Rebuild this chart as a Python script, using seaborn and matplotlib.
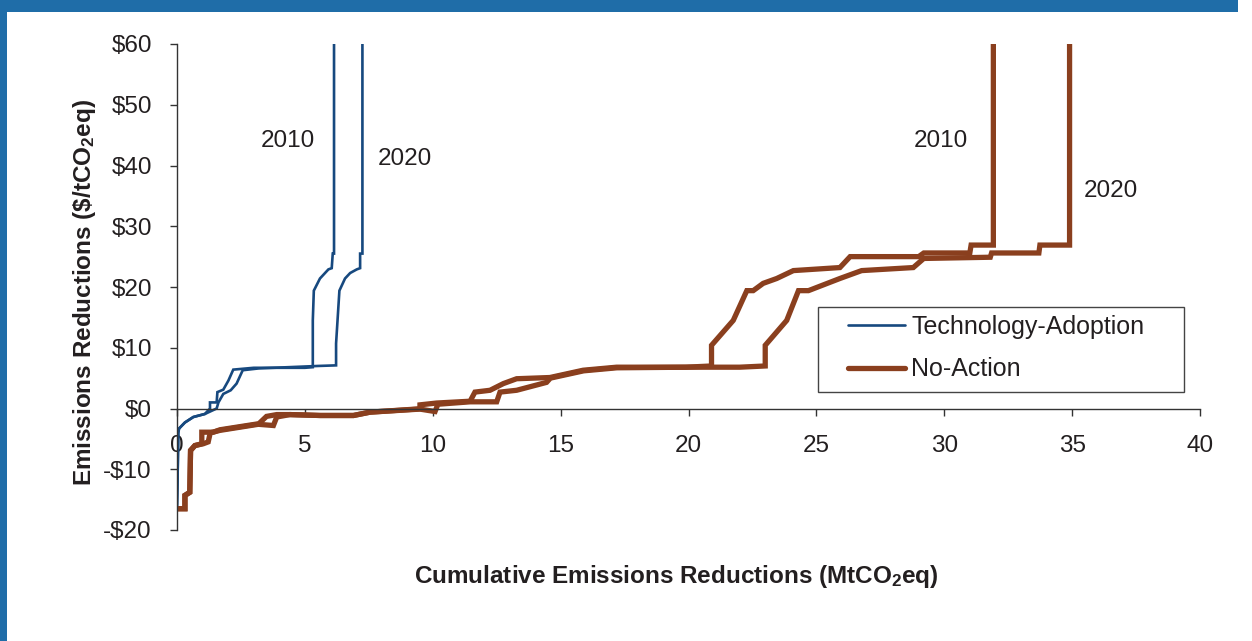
import numpy as np
import pandas as pd
import matplotlib
matplotlib.use("Agg")
import matplotlib.pyplot as plt
import seaborn as sns
from matplotlib.lines import Line2D
from matplotlib.patches import Rectangle

# ---------------- data ----------------
tech_2010_x = [0, 0.02, 0.05, 0.08, 0.31, 0.64, 1.09, 1.29, 1.29, 1.55, 1.58, 1.81, 2.01, 2.2, 3.0, 5.0, 5.31, 5.31, 5.35, 5.59, 5.92, 6.05, 6.09, 6.14, 6.14]
tech_2010_y = [-16, -12, -4, -3.3, -2.3, -1.4, -0.9, 0.0, 1.0, 1.0, 2.7, 3.1, 4.6, 6.4, 6.7, 6.7, 6.8, 14.5, 19.4, 21.4, 22.9, 23.1, 25.5, 25.5, 60]

tech_2020_x = [0, 0.02, 0.05, 0.08, 0.31, 0.64, 1.09, 1.55, 1.62, 1.81, 2.1, 2.33, 2.57, 3.2, 5.5, 6.22, 6.22, 6.35, 6.57, 6.77, 7.03, 7.16, 7.16, 7.25, 7.25]
tech_2020_y = [-16, -12, -4, -3.3, -2.3, -1.4, -0.9, 0.0, 1.0, 2.4, 3.0, 4.1, 6.3, 6.6, 7.0, 7.1, 10.7, 19.4, 21.4, 22.3, 22.9, 23.1, 25.5, 25.5, 60]

noact_2010_x = [0, 0.31, 0.31, 0.5, 0.53, 0.7, 0.97, 0.97, 1.42, 1.68, 3.2, 3.5, 3.9, 4.4, 5.6, 6.9, 7.55, 9.5, 9.5, 10.15, 11.46, 11.65, 12.24, 12.76, 13.28, 14.58, 15.88, 17.19, 19.9, 20.9, 20.9, 21.75, 22.28, 22.53, 22.92, 23.45, 24.1, 25.92, 26.32, 29.0, 29.2, 31.0, 31.05, 31.92, 31.92]
noact_2010_y = [-16.5, -16.5, -14.3, -13.8, -6.9, -6.1, -5.8, -3.9, -3.9, -3.5, -2.5, -1.3, -1.0, -1.0, -1.15, -1.15, -0.6, -0.05, 0.6, 0.9, 1.2, 2.7, 3.0, 4.1, 4.9, 5.1, 6.3, 6.8, 6.8, 7.0, 10.4, 14.5, 19.4, 19.4, 20.6, 21.4, 22.7, 23.2, 25.0, 25.0, 25.6, 25.6, 26.9, 26.9, 60]

noact_2020_x = [0, 0.31, 0.31, 0.5, 0.53, 0.7, 1.03, 1.22, 1.3, 1.68, 3.18, 3.77, 3.9, 4.42, 5.6, 6.9, 7.55, 9.5, 10.09, 10.2, 11.46, 12.5, 12.63, 13.28, 14.45, 14.6, 15.9, 17.2, 20.0, 22.0, 23.0, 23.0, 23.84, 24.3, 24.69, 25.92, 26.77, 28.79, 29.2, 31.8, 31.85, 33.7, 33.74, 34.9, 34.9]
noact_2020_y = [-16.5, -16.5, -14.3, -13.8, -6.9, -6.1, -5.8, -5.5, -4.0, -3.6, -2.6, -2.8, -1.4, -1.0, -1.15, -1.15, -0.6, -0.1, -0.5, 0.7, 1.1, 1.1, 2.7, 3.0, 4.3, 5.0, 6.2, 6.7, 6.8, 6.8, 7.0, 10.4, 14.5, 19.4, 19.4, 21.4, 22.7, 23.2, 24.7, 24.9, 25.6, 25.6, 26.9, 26.9, 60]

x_ticks = [0, 5, 10, 15, 20, 25, 30, 35, 40]
y_ticks = [-20, -10, 0, 10, 20, 30, 40, 50, 60]
y_tick_labels = ["-$20", "-$10", "$0", "$10", "$20", "$30", "$40", "$50", "$60"]
series_names = ["Technology-Adoption", "No-Action"]

# ---------------- style ----------------
sns.set_theme(style="white")
plt.rcParams["font.family"] = ["Liberation Sans", "DejaVu Sans"]
plt.rcParams["mathtext.fontset"] = "custom"
plt.rcParams["mathtext.rm"] = "Liberation Sans"
plt.rcParams["mathtext.bf"] = "Liberation Sans:bold"
plt.rcParams["mathtext.it"] = "Liberation Sans:italic"

BLUE = "#17497F"
BROWN = "#8A3F1E"
TXT = "#231F20"

fig = plt.figure(figsize=(12.52, 6.41), dpi=100)
ax = fig.add_axes([177/1252, 1-530/641, (1200-177)/1252, (530-44)/641])

def draw(xs, ys, color, lw):
    df = pd.DataFrame({"x": xs, "y": ys})
    sns.lineplot(data=df, x="x", y="y", sort=False, estimator=None, color=color,
                 linewidth=lw, ax=ax, legend=False, solid_joinstyle="miter")

draw(noact_2010_x, noact_2010_y, BROWN, 3.8)
draw(noact_2020_x, noact_2020_y, BROWN, 3.8)
draw(tech_2010_x, tech_2010_y, BLUE, 1.9)
draw(tech_2020_x, tech_2020_y, BLUE, 1.9)

ax.set_xlim(0, 40)
ax.set_ylim(-20, 60)
ax.set_xticks(x_ticks)
ax.set_xticklabels([str(v) for v in x_ticks])
ax.set_yticks(y_ticks)
ax.set_yticklabels(y_tick_labels)

for s in ["top", "right"]:
    ax.spines[s].set_visible(False)
ax.spines["bottom"].set_position(("data", 0))
for s in ["left", "bottom"]:
    ax.spines[s].set_color("#333333")
    ax.spines[s].set_linewidth(1.0)

ax.tick_params(axis="x", bottom=True, direction="out", length=5, width=1, color="#333333",
               labelsize=17.5, labelcolor=TXT, pad=14)
ax.tick_params(axis="y", left=True, direction="out", length=5, width=1, color="#333333",
               labelsize=17.5, labelcolor=TXT, pad=13)
ax.set_xlabel("")
ax.set_ylabel("")
ax.patch.set_alpha(0)

fig.text(676/1252, 1-577/641, r"Cumulative Emissions Reductions (MtCO$\mathbf{_2}$eq)",
         ha="center", va="center", fontsize=17.5, fontweight="bold", color=TXT)
fig.text(85/1252, 1-292/641, r"Emissions Reductions (\$/tCO$\mathbf{_2}$eq)",
         ha="center", va="center", rotation=90, fontsize=17.5, fontweight="bold", color=TXT)

# year annotations
ax.text(4.35, 44.1, "2010", fontsize=17.5, color=TXT, ha="center", va="center")
ax.text(8.9, 41.1, "2020", fontsize=17.5, color=TXT, ha="center", va="center")
ax.text(29.85, 44.1, "2010", fontsize=17.5, color=TXT, ha="center", va="center")
ax.text(36.5, 35.8, "2020", fontsize=17.5, color=TXT, ha="center", va="center")

# legend (box drawn separately to match the reference proportions)
box = Rectangle((818/1252, 1-392/641), (1184-818)/1252, (392-307)/641,
                transform=fig.transFigure, facecolor="white",
                edgecolor="#444444", linewidth=1.0, zorder=4, clip_on=False)
ax.add_patch(box)
handles = [Line2D([], [], color=BLUE, lw=1.9), Line2D([], [], color=BROWN, lw=3.8)]
leg = ax.legend(handles, series_names, loc="upper left",
                bbox_to_anchor=(848/1252, 1-315/641), bbox_transform=fig.transFigure,
                fontsize=18, frameon=False,
                handlelength=2.28, handletextpad=0.25, borderpad=0,
                labelspacing=0.74, borderaxespad=0)
leg.set_zorder(6)
for t in leg.get_texts():
    t.set_color(TXT)

# blue frame
FRAME = "#1F6DA8"
fig.patches.append(Rectangle((0, 1-12/641), 1238/1252, 12/641, transform=fig.transFigure,
                             facecolor=FRAME, edgecolor="none", zorder=10))
fig.patches.append(Rectangle((0, 0), 7/1252, 1, transform=fig.transFigure,
                             facecolor=FRAME, edgecolor="none", zorder=10))

fig.savefig("out.png", dpi=100, facecolor="white")
